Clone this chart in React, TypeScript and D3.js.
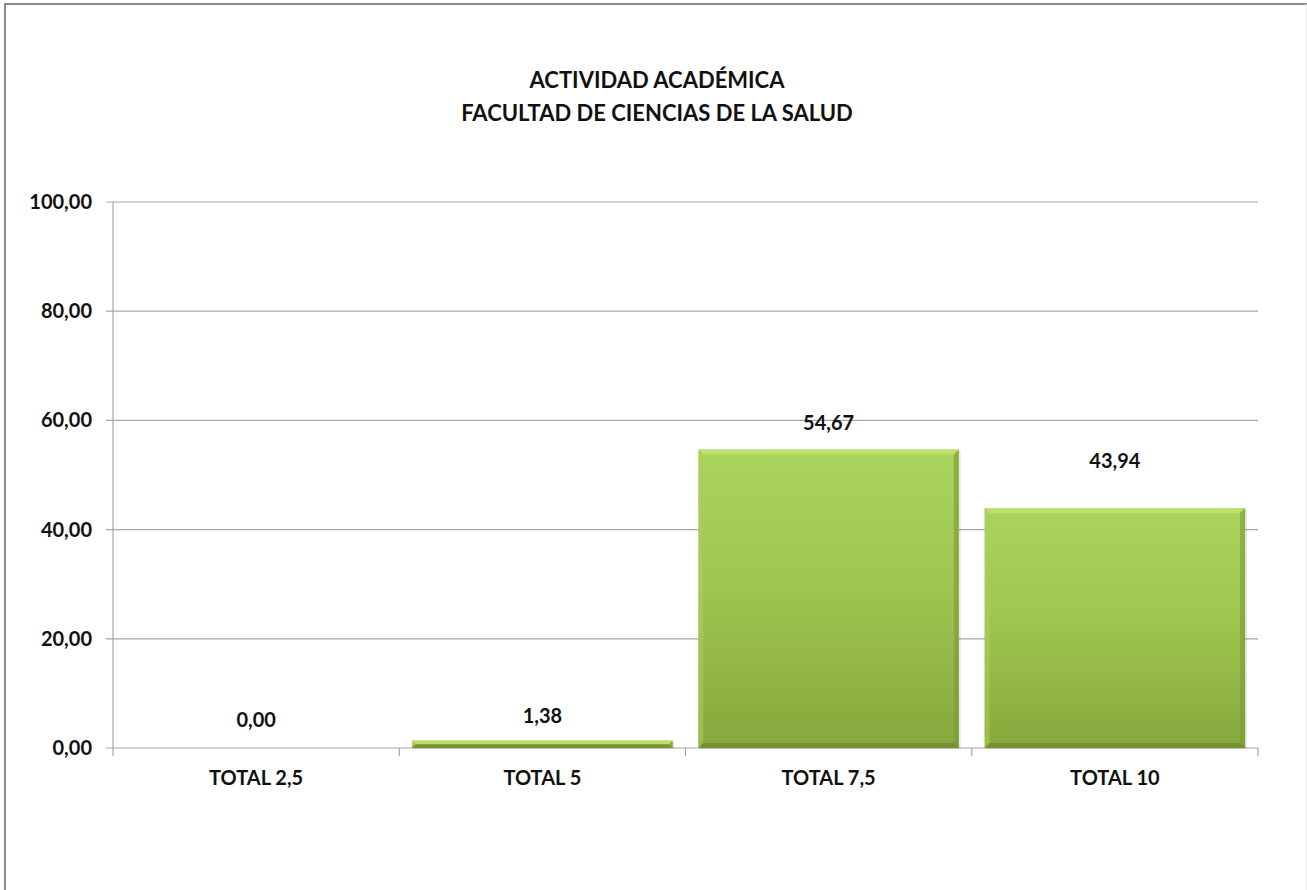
import React, { useEffect } from "react";
import * as d3 from "d3";

const title = ["ACTIVIDAD ACADÉMICA", "FACULTAD DE CIENCIAS DE LA SALUD"];
const categories = ["TOTAL 2,5", "TOTAL 5", "TOTAL 7,5", "TOTAL 10"];
const values = [0, 1.38, 54.67, 43.94];
const yTicks = [0, 20, 40, 60, 80, 100];

const width = 1307;
const height = 890;
const margin = { left: 113, right: 49, top: 202, bottom: 142 };
const font = "Lato, 'Open Sans', sans-serif";
const fmt = (v: number) => v.toFixed(2).replace(".", ",");

// Excel put the labels a bit unevenly, keep that
const labelLift = [28, 24, 27, 47];

const App: React.FC = () => {
  useEffect(() => {
    document.body.style.margin = "0";
  }, []);

  const x = d3
    .scaleBand<string>()
    .domain(categories)
    .range([margin.left, width - margin.right])
    .paddingInner(0.09)
    .paddingOuter(0.045);
  const y = d3
    .scaleLinear()
    .domain([0, 100])
    .range([height - margin.bottom, margin.top]);
  const step = x.step();
  const y0 = y(0);

  return (
    <svg width={width} height={height} style={{ display: "block" }}>
      <defs>
        <linearGradient id="barFill" x1="0" y1="0" x2="0" y2="1">
          <stop offset="0%" stopColor="#a9d45a" />
          <stop offset="45%" stopColor="#9fc650" />
          <stop offset="100%" stopColor="#86a83d" />
        </linearGradient>
      </defs>
      <rect x={5} y={4} width={width + 10} height={height + 10} fill="#fff" stroke="#8c8c8c" strokeWidth={2} />
      <line x1={1306} x2={1306} y1={4} y2={height} stroke="#e6e6e6" />

      {title.map((t, i) => (
        <text
          key={t}
          x={657}
          y={80 + i * 33}
          dy="0.35em"
          textAnchor="middle"
          fontFamily={font}
          fontWeight={700}
          fontSize={22}
          fill="#111"
        >
          {t}
        </text>
      ))}

      {yTicks.map((t) => (
        <g key={t}>
          <line
            x1={margin.left - 7}
            x2={width - margin.right}
            y1={y(t)}
            y2={y(t)}
            stroke="#a6a6a6"
            strokeWidth={1.2}
          />
          <text
            x={margin.left - 21}
            y={y(t)}
            dy="0.35em"
            textAnchor="end"
            fontFamily={font}
            fontWeight={700}
            fontSize={20}
            fill="#111"
          >
            {fmt(t)}
          </text>
        </g>
      ))}
      <line x1={margin.left} x2={margin.left} y1={margin.top} y2={y0 + 8} stroke="#a6a6a6" strokeWidth={1.2} />
      {categories.map((c, i) => (
        <line
          key={c}
          x1={margin.left + step * (i + 1)}
          x2={margin.left + step * (i + 1)}
          y1={y0}
          y2={y0 + 8}
          stroke="#a6a6a6"
          strokeWidth={1.2}
        />
      ))}

      {categories.map((c, i) => {
        const v = values[i];
        const bx = x(c)!;
        const bw = x.bandwidth();
        const by = y(v);
        const bh = y0 - by;
        const e = Math.min(5, bh / 2);
        return (
          <g key={c}>
            {bh > 0 && (
              <g>
                <rect x={bx + 2} y={by + 1} width={bw} height={bh} fill="#000" opacity={0.08} />
                <rect x={bx} y={by} width={bw} height={bh} fill="url(#barFill)" />
                <polygon
                  points={`${bx},${by} ${bx + bw},${by} ${bx + bw - e},${by + e} ${bx + e},${by + e}`}
                  fill="#c0e274"
                  opacity={0.8}
                />
                <polygon
                  points={`${bx},${by} ${bx + e},${by + e} ${bx + e},${y0 - e} ${bx},${y0}`}
                  fill="#acd05e"
                  opacity={0.5}
                />
                <polygon
                  points={`${bx + bw},${by} ${bx + bw},${y0} ${bx + bw - e},${y0 - e} ${bx + bw - e},${by + e}`}
                  fill="#7a9a34"
                  opacity={0.6}
                />
                <polygon
                  points={`${bx},${y0} ${bx + bw},${y0} ${bx + bw - e},${y0 - e} ${bx + e},${y0 - e}`}
                  fill="#6b882b"
                  opacity={0.7}
                />
              </g>
            )}
            <text
              x={bx + bw / 2}
              y={by - labelLift[i]}
              dy="0.35em"
              textAnchor="middle"
              fontFamily={font}
              fontWeight={700}
              fontSize={20}
              fill="#111"
            >
              {fmt(v)}
            </text>
            <text
              x={bx + bw / 2}
              y={778}
              dy="0.35em"
              textAnchor="middle"
              fontFamily={font}
              fontWeight={700}
              fontSize={20}
              fill="#111"
            >
              {c}
            </text>
          </g>
        );
      })}
    </svg>
  );
};

export default App;
